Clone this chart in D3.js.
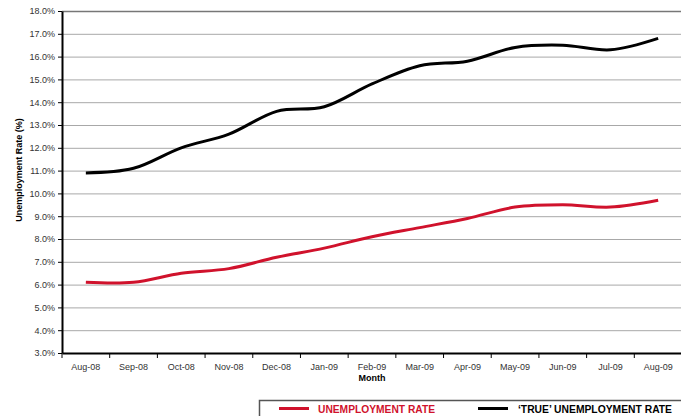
<!DOCTYPE html>
<html><head><meta charset="utf-8">
<script src="https://cdn.jsdelivr.net/npm/d3@7"></script>
<style>body{margin:0;background:#fff}svg{display:block}</style>
</head><body>
<script>
const months = ["Aug-08","Sep-08","Oct-08","Nov-08","Dec-08","Jan-09","Feb-09","Mar-09","Apr-09","May-09","Jun-09","Jul-09","Aug-09"];
const unemployment = [6.1,6.1,6.5,6.7,7.2,7.6,8.1,8.5,8.9,9.4,9.5,9.4,9.7];
const trueUnemployment = [10.9,11.1,12.0,12.6,13.6,13.8,14.8,15.6,15.8,16.4,16.5,16.3,16.8];
const yTicks = [3,4,5,6,7,8,9,10,11,12,13,14,15,16,17,18];
const legendLabels = ["UNEMPLOYMENT RATE","\u2018TRUE\u2019 UNEMPLOYMENT RATE"];

const W=681,H=416;
const svg=d3.select("body").append("svg").attr("width",W).attr("height",H);
const L=62,R=682,T=11,B=353;
const x=d3.scaleBand().domain(months).range([L,R]);
const y=d3.scaleLinear().domain([3,18]).range([B,T]);

// gridlines
svg.append("g").selectAll("line").data(yTicks.filter(d=>d>3)).join("line")
 .attr("x1",L).attr("x2",W).attr("y1",d=>y(d)+0.5).attr("y2",d=>y(d)+0.5)
 .attr("stroke",d=>d===18?"#777":"#a8a8a8").attr("stroke-width",d=>d===18?1.6:1);

// y axis
const ya=svg.append("g").attr("transform",`translate(${L},0)`)
 .call(d3.axisLeft(y).tickValues(yTicks).tickFormat(d=>d.toFixed(1)+"%").tickSize(4).tickSizeOuter(0));
ya.select(".domain").attr("stroke","#000").attr("stroke-width",2);
ya.selectAll(".tick line").attr("stroke","#000");
ya.selectAll("text").attr("font-family","Liberation Sans, Arial, sans-serif").attr("font-size",9).attr("fill","#333").attr("x",-7);

// x axis
const xa=svg.append("g").attr("transform",`translate(0,${B})`)
 .call(d3.axisBottom(x).tickSize(0).tickSizeOuter(0));
xa.select(".domain").attr("stroke","#000").attr("stroke-width",2);
xa.selectAll("text").attr("font-family","Liberation Sans, Arial, sans-serif").attr("font-size",9).attr("fill","#333").attr("dy",0).attr("y",17);
svg.append("g").selectAll("line").data(months.map((m,i)=>i).concat([months.length])).join("line")
 .attr("x1",i=>L+i*x.step()).attr("x2",i=>L+i*x.step()).attr("y1",B).attr("y2",B+5)
 .attr("stroke","#000").attr("stroke-width",1);

// titles
svg.append("text").attr("x",(L+R)/2).attr("y",381).attr("text-anchor","middle")
 .attr("font-family","Liberation Sans, Arial, sans-serif").attr("font-size",9).attr("font-weight","bold").text("Month");
svg.append("text").attr("transform","translate(22,170) rotate(-90)").attr("text-anchor","middle")
 .attr("font-family","Liberation Sans, Arial, sans-serif").attr("font-size",9).attr("font-weight","bold").text("Unemployment Rate (%)");

// lines
const line=d3.line().x((d,i)=>x(months[i])+x.bandwidth()/2).y(d=>y(d)).curve(d3.curveCatmullRom.alpha(0));
svg.append("path").datum(unemployment).attr("d",line).attr("fill","none").attr("stroke","#d0122c").attr("stroke-width",3);
svg.append("path").datum(trueUnemployment).attr("d",line).attr("fill","none").attr("stroke","#000").attr("stroke-width",3);

// legend
svg.append("rect").attr("x",259.5).attr("y",400.5).attr("width",440).attr("height",40)
 .attr("fill","none").attr("stroke","#555").attr("stroke-width",1.5);
const lg=[{c:"#d0122c",x1:279,tx:318,tw:117,t:legendLabels[0],tc:"#d0122c"},
          {c:"#000",x1:478,tx:518,tw:154,t:legendLabels[1],tc:"#000"}];
lg.forEach(g=>{
 svg.append("line").attr("x1",g.x1).attr("x2",g.x1+30).attr("y1",408.5).attr("y2",408.5).attr("stroke",g.c).attr("stroke-width",3);
 svg.append("text").attr("x",g.tx).attr("y",412.5).attr("font-family","Liberation Sans, Arial, sans-serif")
  .attr("font-size",10).attr("font-weight","bold").attr("fill",g.tc).attr("textLength",g.tw).attr("lengthAdjust","spacingAndGlyphs").text(g.t);
});
</script>
</body></html>
